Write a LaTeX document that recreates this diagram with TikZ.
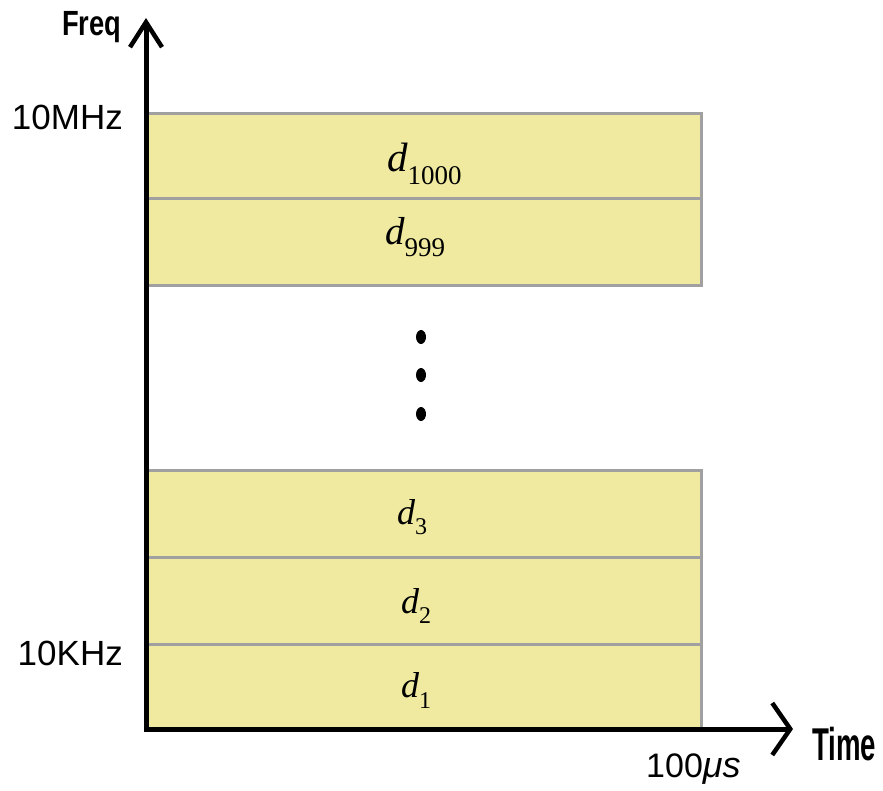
\documentclass[tikz,border=0pt]{standalone}
\usepackage{fontspec}
\setmainfont{Liberation Sans}
\newfontfamily\tms{Liberation Serif}
\usetikzlibrary{arrows.meta}
\definecolor{cellfill}{RGB}{239,234,160}
\definecolor{cellline}{RGB}{160,160,160}
\tikzset{
  cell/.style={fill=cellfill, draw=cellline, line width=3pt},
  axis/.style={line width=5pt, black},
  lab/.style={inner sep=0pt, anchor=base east, font=\fontsize{35}{35}\selectfont},
  dl/.style={inner sep=0pt, anchor=base west, font=\tms\itshape},
}
\begin{document}
\begin{tikzpicture}[x=1pt,y=-1pt]
\useasboundingbox (0,0) rectangle (883,790);
% cells
\draw[cell] (147,113) rectangle (701,198);
\draw[cell] (147,198) rectangle (701,285);
\draw[cell] (147,470) rectangle (701,557);
\draw[cell] (147,557) rectangle (701,644);
\draw[cell] (147,644) rectangle (701,729);
% dots
\fill (421,337) ellipse [x radius=5, y radius=7];
\fill (421,375) ellipse [x radius=5, y radius=7];
\fill (421,414) ellipse [x radius=5, y radius=7];
% axes
\coordinate (O) at (146,729);
\coordinate (ytop) at (146,18);
\coordinate (xend) at (793,729);
\draw[axis, line cap=rect, -{Straight Barb[length=25pt,width=32pt,line width=4.5pt]}] (O) -- (ytop);
\draw[axis, line cap=rect, -{Straight Barb[length=18pt,width=52pt,line width=4.5pt]}] (O) -- (xend);
% axis labels
\node[inner sep=0pt, anchor=base west] (freq) at (62,35)
  {\scalebox{0.78}[1]{\fontsize{35}{35}\selectfont\bfseries Freq}};
\node[inner sep=0pt, anchor=base west] (time) at (812,760)
  {\scalebox{0.6}[1]{\fontsize{46}{46}\selectfont\bfseries Time}};
\node[lab] (mhz) at (123,129) {10MHz};
\node[lab] (khz) at (123,665) {10KHz};
\node[inner sep=0pt, anchor=base west] (us) at (646,777)
  {\fontsize{34}{34}\selectfont 100{\itshape\fontsize{36}{36}\selectfont μs}};
% cell labels
\node[dl] (d1000) at (387,171) {\fontsize{41}{41}\selectfont d\raisebox{-13pt}{\fontsize{27}{27}\selectfont\upshape 1000}};
\node[dl] (d999) at (385,244) {\fontsize{39}{39}\selectfont d\raisebox{-12pt}{\fontsize{27}{27}\selectfont\upshape 999}};
\node[dl] (d3) at (397,524) {\fontsize{36}{36}\selectfont d\raisebox{-10pt}{\fontsize{24}{24}\selectfont\upshape 3}};
\node[dl] (d2) at (401,613) {\fontsize{36}{36}\selectfont d\raisebox{-10pt}{\fontsize{24}{24}\selectfont\upshape 2}};
\node[dl] (d1) at (401,697) {\fontsize{36}{36}\selectfont d\raisebox{-11pt}{\fontsize{24}{24}\selectfont\upshape 1}};
\end{tikzpicture}
\end{document}
